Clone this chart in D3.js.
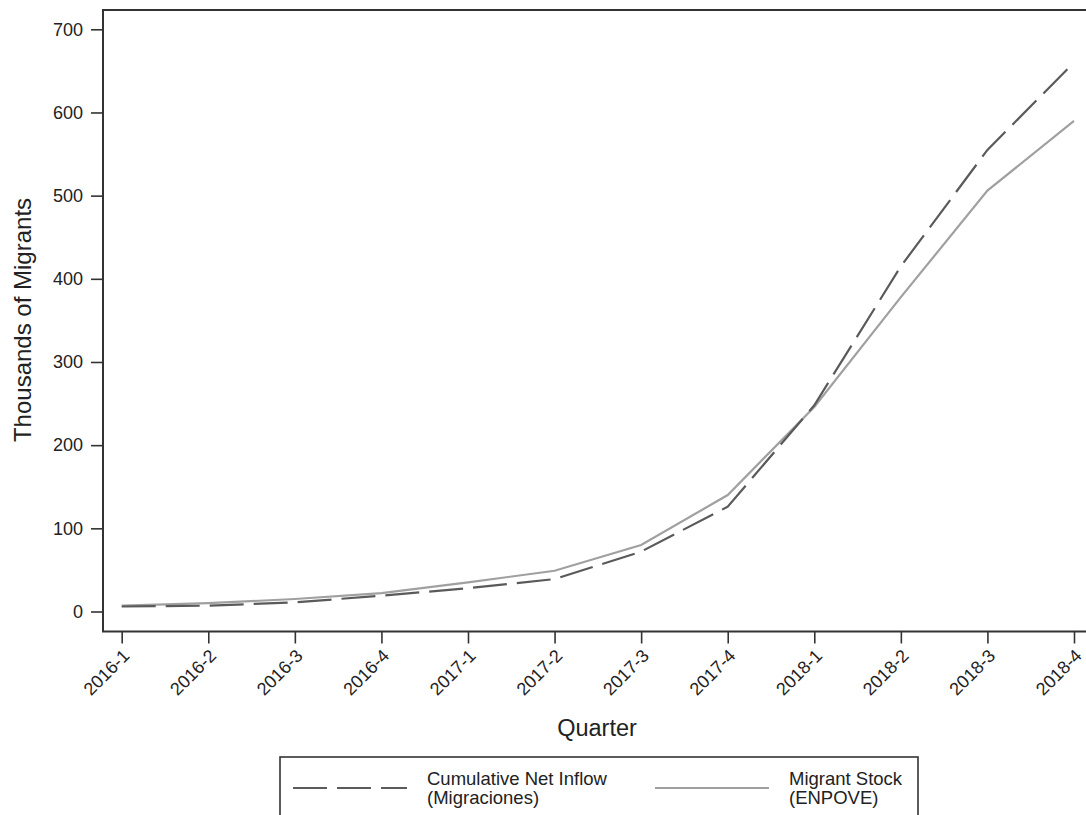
<!DOCTYPE html>
<html>
<head>
<meta charset="utf-8">
<script src="https://cdn.jsdelivr.net/npm/d3@7"></script>
<style>
body { margin: 0; background: #fff; }
svg { display: block; font-family: "Liberation Sans", Arial, sans-serif; }
</style>
</head>
<body>
<svg id="chart" width="1086" height="815"></svg>
<script>
var quarters = ['2016-1', '2016-2', '2016-3', '2016-4', '2017-1', '2017-2', '2017-3', '2017-4', '2018-1', '2018-2', '2018-3', '2018-4']
var netInflow = [6, 7, 11, 19, 28, 39, 72, 126, 248, 415, 555, 660]
var migrantStock = [7, 10, 15, 22, 35, 49, 80, 140, 246, 378, 506, 590]
var yTicks = [0, 100, 200, 300, 400, 500, 600, 700]

var series = [
  {name: ['Cumulative Net Inflow', '(Migraciones)'], values: netInflow, color: '#5a5a5a', dash: '34,10'},
  {name: ['Migrant Stock', '(ENPOVE)'], values: migrantStock, color: '#a0a0a0', dash: null}
]

var frame = {left: 103, top: 10, bottom: 631.5, right: 1100}

var svg = d3.select('#chart')

var x = d3.scalePoint().domain(quarters).range([121.7, 1074])
var y = d3.scaleLinear().domain([0, 700]).range([611.5, 29.3])

// plot frame (right side runs off the image)
svg.append('path')
  .attr('d', `M${frame.right},${frame.top}H${frame.left}V${frame.bottom}H${frame.right}`)
  .attr('fill', 'none').attr('stroke', '#333').attr('stroke-width', 2)

var yAxis = svg.append('g')
  .attr('transform', `translate(${frame.left},0)`)
  .call(d3.axisLeft(y).tickValues(yTicks).tickSize(12).tickPadding(8))
yAxis.select('.domain').remove()

var xAxis = svg.append('g')
  .attr('transform', `translate(0,${frame.bottom})`)
  .call(d3.axisBottom(x).tickSize(12).tickSizeOuter(0))
xAxis.select('.domain').remove()
xAxis.selectAll('text')
  .attr('text-anchor', 'end')
  .attr('dy', '0.35em')
  .attr('transform', 'translate(4,21) rotate(-45)')
  .attr('y', 0)

svg.selectAll('.tick line').attr('stroke', '#333').attr('stroke-width', 1.6)
svg.selectAll('.tick text').attr('fill', '#222').style('font-size', '18px')

var line = d3.line()
  .x((d, i) => x(quarters[i]))
  .y(d => y(d))

svg.selectAll('path.series')
  .data(series.slice().reverse())
  .join('path')
  .attr('class', 'series')
  .attr('d', d => line(d.values))
  .attr('fill', 'none')
  .attr('stroke', d => d.color)
  .attr('stroke-width', 2.2)
  .attr('stroke-dasharray', d => d.dash)

svg.append('text')
  .attr('transform', 'translate(31,320) rotate(-90)')
  .attr('text-anchor', 'middle')
  .style('font-size', '24px').attr('fill', '#222')
  .text('Thousands of Migrants')

svg.append('text')
  .attr('x', 597).attr('y', 736)
  .attr('text-anchor', 'middle')
  .style('font-size', '23.5px').attr('fill', '#222')
  .text('Quarter')

// legend
var legend = svg.append('g')
legend.append('rect')
  .attr('x', 280).attr('y', 757).attr('width', 638).attr('height', 80)
  .attr('fill', '#fff').attr('stroke', '#333').attr('stroke-width', 1.6)

var item = legend.selectAll('g.item')
  .data(series)
  .join('g')
  .attr('class', 'item')
  .attr('transform', (d, i) => `translate(${[293, 655][i]},0)`)

item.append('line')
  .attr('x1', 0).attr('x2', 114).attr('y1', 788).attr('y2', 788)
  .attr('stroke', d => d.color).attr('stroke-width', 2.2)
  .attr('stroke-dasharray', d => d.dash)

item.append('text')
  .attr('x', 134)
  .style('font-size', '18.5px').attr('fill', '#222')
  .selectAll('tspan')
  .data(d => d.name)
  .join('tspan')
  .attr('x', 134)
  .attr('y', (d, i) => 785 + i * 19)
  .text(d => d)
</script>
</body>
</html>
